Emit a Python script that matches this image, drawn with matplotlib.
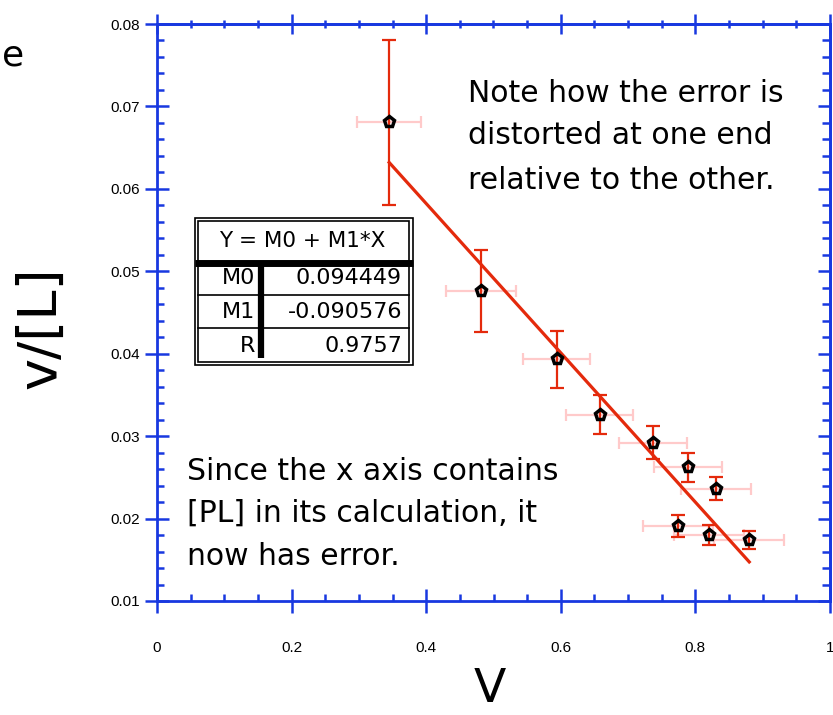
import matplotlib.pyplot as plt
import numpy as np
from matplotlib.ticker import MultipleLocator

# data
v = np.array([0.345, 0.481, 0.594, 0.658, 0.737, 0.789, 0.831, 0.774, 0.820, 0.880])
v_over_L = np.array([0.0681, 0.0476, 0.0393, 0.0326, 0.0292, 0.0262, 0.0236, 0.0191, 0.0180, 0.0174])
y_err = np.array([0.0100, 0.0050, 0.0034, 0.0024, 0.0020, 0.0018, 0.0014, 0.0013, 0.0012, 0.0011])
x_err = np.array([0.048, 0.052, 0.050, 0.050, 0.050, 0.051, 0.052, 0.052, 0.052, 0.052])

M0 = 0.094449
M1 = -0.090576
R = 0.9757

blue = '#1838e0'
red = '#e42a0c'
pink = '#ffcaca'

fig = plt.figure(figsize=(8.33, 7.15), dpi=100)
ax = fig.add_axes([157 / 833, 1 - 601 / 715, 673 / 833, 577 / 715])

ax.errorbar(v, v_over_L, xerr=x_err, fmt='none', ecolor=pink, elinewidth=1.6,
            capsize=4, capthick=1.6, zorder=2)
ax.errorbar(v, v_over_L, yerr=y_err, fmt='none', ecolor=red, elinewidth=1.6,
            capsize=5, capthick=1.6, zorder=3)
fit_x = np.array([v.min(), v.max()])
ax.plot(fit_x, M0 + M1 * fit_x, color=red, lw=2.3, zorder=4)
ax.plot(v, v_over_L, 'p', ms=8, mfc='none', mec='black', mew=2.5, zorder=5)

ax.set_xlim(0, 1)
ax.set_ylim(0.01, 0.08)
ax.xaxis.set_minor_locator(MultipleLocator(0.05))
ax.yaxis.set_minor_locator(MultipleLocator(0.002))
ax.set_xticks([0, 0.2, 0.4, 0.6, 0.8, 1])
ax.set_xticklabels(['0', '0.2', '0.4', '0.6', '0.8', '1'])
ax.set_yticks([0.01, 0.02, 0.03, 0.04, 0.05, 0.06, 0.07, 0.08])
ax.set_yticklabels(['0.01', '0.02', '0.03', '0.04', '0.05', '0.06', '0.07', '0.08'])

for sp in ax.spines.values():
    sp.set_color(blue)
    sp.set_linewidth(2)
ax.tick_params(which='major', direction='inout', length=17, width=1.8, color=blue,
               labelsize=11, labelfontfamily='Liberation Sans')
ax.tick_params(which='minor', direction='in', length=5, width=1.8, color=blue)
ax.tick_params(axis='x', which='major', pad=20)
ax.tick_params(axis='y', which='major', pad=4)

top = ax.secondary_xaxis('top')
top.xaxis.set_major_locator(MultipleLocator(0.2))
top.xaxis.set_minor_locator(MultipleLocator(0.05))
top.tick_params(which='major', direction='inout', length=15, width=1.8, color=blue, labeltop=False)
top.tick_params(which='minor', direction='inout', length=6, width=1.8, color=blue)
top.spines['top'].set_color(blue)
top.spines['top'].set_linewidth(2)

right = ax.secondary_yaxis('right')
right.yaxis.set_major_locator(MultipleLocator(0.01))
right.yaxis.set_minor_locator(MultipleLocator(0.002))
right.tick_params(which='major', direction='in', length=9, width=1.8, color=blue, labelright=False)
right.tick_params(which='minor', direction='in', length=6, width=1.8, color=blue)
right.spines['right'].set_color(blue)
right.spines['right'].set_linewidth(2)

fig.text(40 / 833, 1 - 328 / 715, 'v/[L]', rotation=90, ha='center', va='center', fontsize=39)
fig.text(490 / 833, 1 - 690 / 715, 'V', ha='center', va='center', fontsize=34)
fig.text(24 / 833, 1 - 56 / 715, 'e', ha='right', va='center', fontsize=26)

# notes
note1 = ['Note how the error is', 'distorted at one end', 'relative to the other.']
for line, yb in zip(note1, [0.865, 0.792, 0.714]):
    ax.text(0.462, yb, line, transform=ax.transAxes, fontsize=21.5, va='baseline')
note2 = ['Since the x axis contains', '[PL] in its calculation, it', 'now has error.']
for line, yb in zip(note2, [0.2097, 0.1369, 0.0624]):
    ax.text(0.0446, yb, line, transform=ax.transAxes, fontsize=21.5, va='baseline')

# fit results box
tr = ax.transAxes
bx0, bx1, by0, by1 = 0.0565, 0.380, 0.409, 0.664
ax.add_patch(plt.Rectangle((bx0, by0), bx1 - bx0, by1 - by0, transform=tr,
                           fc='white', ec='black', lw=1.2, zorder=6))
ax.add_patch(plt.Rectangle((bx0 + 0.005, by0 + 0.006), bx1 - bx0 - 0.010, by1 - by0 - 0.012,
                           transform=tr, fc='none', ec='black', lw=1.2, zorder=6))
ax.plot([bx0, bx1], [0.586, 0.586], transform=tr, color='black', lw=5, zorder=7,
        solid_capstyle='butt')
for yy in [0.530, 0.473]:
    ax.plot([bx0 + 0.005, bx1 - 0.005], [yy, yy], transform=tr, color='black', lw=1.2, zorder=7)
ax.plot([0.1545, 0.1545], [0.421, 0.586], transform=tr, color='black', lw=4.5, zorder=7,
        solid_capstyle='butt')
ax.text(0.2155, 0.624, 'Y = M0 + M1*X', transform=tr, ha='center', va='center',
        fontsize=15.5, zorder=8)
names = ['M0', 'M1', 'R']
vals = ['%.6f' % M0, '%.6f' % M1, '%.4f' % R]
for nm, val, yy in zip(names, vals, [0.560, 0.501, 0.442]):
    ax.text(0.146, yy, nm, transform=tr, ha='right', va='center', fontsize=16, zorder=8)
    ax.text(0.364, yy, val, transform=tr, ha='right', va='center', fontsize=16, zorder=8)

fig.savefig('out.png', dpi=100)
